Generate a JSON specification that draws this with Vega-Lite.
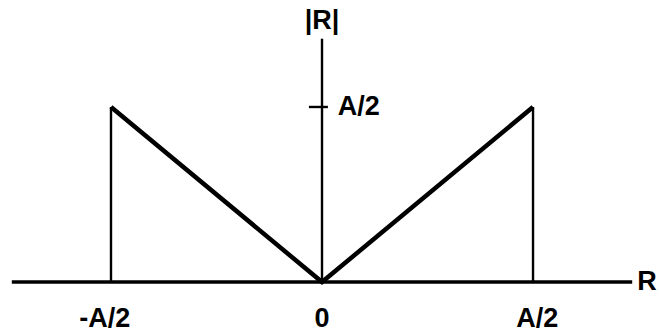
{
  "$schema": "https://vega.github.io/schema/vega-lite/v6.json",
  "width": 659,
  "height": 333,
  "padding": 0,
  "autosize": {"type": "none"},
  "background": "white",
  "config": {"view": {"stroke": null}},
  "datasets": {
    "rules": [
      {"part": "xaxis", "x": -1.47, "x2": 1.47, "y": 0, "y2": 0},
      {"part": "yaxis", "x": 0, "x2": 0, "y": 0, "y2": 1.39},
      {"part": "tick", "x": -0.062, "x2": 0.028, "y": 1, "y2": 1},
      {"part": "drop", "x": -1, "x2": -1, "y": 0, "y2": 1},
      {"part": "drop", "x": 1, "x2": 1, "y": 0, "y2": 1}
    ],
    "curve": [
      {"r": -1, "v": 1},
      {"r": 0, "v": 0},
      {"r": 1, "v": 1}
    ],
    "labels": [
      {"x": -1.03, "y": -0.21, "label": "-A/2", "side": "center"},
      {"x": 0, "y": -0.21, "label": "0", "side": "center"},
      {"x": 1.02, "y": -0.21, "label": "A/2", "side": "center"},
      {"x": 1.54, "y": 0, "label": "R", "side": "center"},
      {"x": 0, "y": 1.49, "label": "|R|", "side": "center"},
      {"x": 0.075, "y": 1, "label": "A/2", "side": "left"}
    ]
  },
  "layer": [
    {
      "data": {"name": "rules"},
      "transform": [{"filter": "datum.part === 'xaxis'"}],
      "mark": {"type": "rule", "color": "black", "strokeWidth": 3.5},
      "encoding": {
        "x": {"field": "x", "type": "quantitative", "scale": {"domain": [-1.526, 1.597], "nice": false, "zero": false}, "axis": null},
        "x2": {"field": "x2"},
        "y": {"field": "y", "type": "quantitative", "scale": {"domain": [-0.291, 1.611], "nice": false, "zero": false}, "axis": null},
        "y2": {"field": "y2"}
      }
    },
    {
      "data": {"name": "rules"},
      "transform": [{"filter": "datum.part !== 'xaxis'"}],
      "mark": {"type": "rule", "color": "black", "strokeWidth": 2.4},
      "encoding": {
        "x": {"field": "x", "type": "quantitative"},
        "x2": {"field": "x2"},
        "y": {"field": "y", "type": "quantitative"},
        "y2": {"field": "y2"}
      }
    },
    {
      "data": {"name": "curve"},
      "mark": {"type": "line", "color": "black", "strokeWidth": 4.5, "strokeJoin": "miter"},
      "encoding": {
        "x": {"field": "r", "type": "quantitative"},
        "y": {"field": "v", "type": "quantitative"},
        "order": {"field": "r"}
      }
    },
    {
      "data": {"name": "labels"},
      "transform": [{"filter": "datum.side === 'center'"}],
      "mark": {"type": "text", "font": "Liberation Sans", "fontSize": 27, "fontWeight": "bold", "color": "black", "baseline": "middle", "align": "center"},
      "encoding": {
        "x": {"field": "x", "type": "quantitative"},
        "y": {"field": "y", "type": "quantitative"},
        "text": {"field": "label"}
      }
    },
    {
      "data": {"name": "labels"},
      "transform": [{"filter": "datum.side === 'left'"}],
      "mark": {"type": "text", "font": "Liberation Sans", "fontSize": 27, "fontWeight": "bold", "color": "black", "baseline": "middle", "align": "left"},
      "encoding": {
        "x": {"field": "x", "type": "quantitative"},
        "y": {"field": "y", "type": "quantitative"},
        "text": {"field": "label"}
      }
    }
  ]
}
